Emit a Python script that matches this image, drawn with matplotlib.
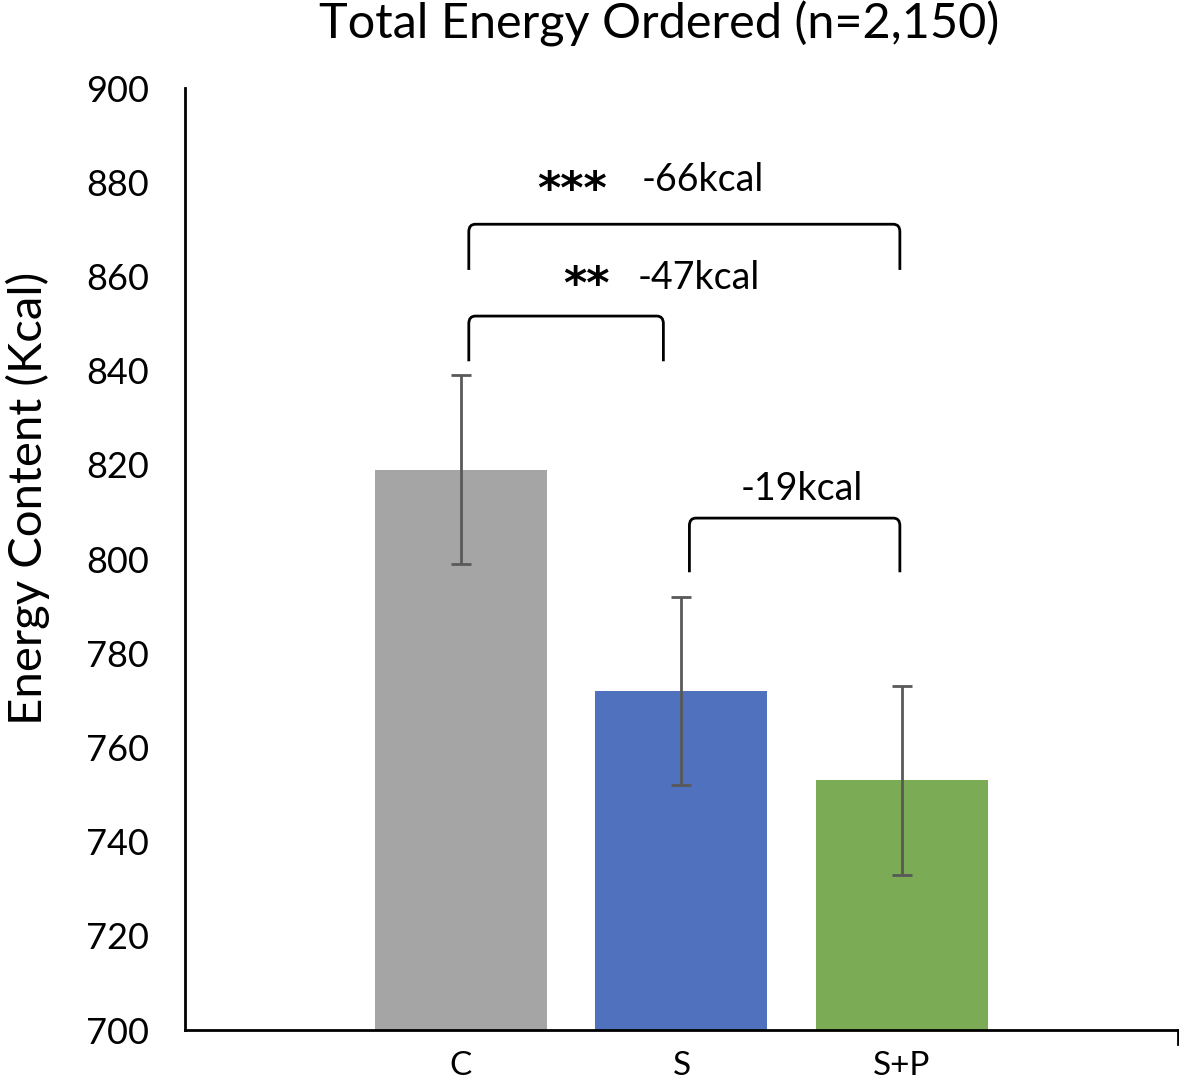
import matplotlib.pyplot as plt
from matplotlib.path import Path
from matplotlib.patches import PathPatch

groups = ["C", "S", "S+P"]
energy = [819, 772, 753]
err = [20, 20, 20]
colors = ["#A5A5A5", "#4F71BE", "#7CAB55"]

# brackets: (x start, x end, top, leg bottom)
brackets = [(0.036, 0.918, 851.6, 842.0),
            (0.036, 1.99, 871.1, 861.4),
            (1.036, 1.99, 808.7, 797.2)]

plt.rcParams['font.family'] = ['Lato', 'DejaVu Sans']

fig = plt.figure(figsize=(11.79, 10.88), dpi=100)
ax = fig.add_axes([0.157, 0.0533, 0.842, 0.8657])

x = range(len(groups))
ax.bar(x, energy, width=0.78, color=colors, zorder=2)
ax.errorbar(x, energy, yerr=err, fmt='none', ecolor='#595959',
            elinewidth=2, capsize=7, capthick=2, zorder=3)

ax.set_xlim(-1.25, 3.25)
ax.set_ylim(700, 900)
ax.set_yticks(range(700, 901, 20))
ax.set_xticks(list(x))
ax.set_xticklabels(groups)
ax.tick_params(axis='y', length=0, pad=26, labelsize=26)
ax.tick_params(axis='x', length=0, pad=15, labelsize=24)
for s in ['top', 'right']:
    ax.spines[s].set_visible(False)
ax.spines['left'].set_linewidth(2)
ax.spines['bottom'].set_linewidth(2)
ax.plot([3.25, 3.25], [700, 697], color='black', lw=2, clip_on=False)

fig.text(0.024, 0.542, "Energy Content (Kcal)", fontsize=34, rotation=90,
         ha='center', va='center')
fig.text(0.559, 0.978, "Total Energy Ordered (n=2,150)", fontsize=35,
         ha='center', va='center')

rx, ry = 0.03, 1.6
for x1, x2, top, bot in brackets:
    verts = [(x1, bot), (x1, top - ry), (x1, top), (x1 + rx, top),
             (x2 - rx, top), (x2, top), (x2, top - ry), (x2, bot)]
    codes = [Path.MOVETO, Path.LINETO, Path.CURVE3, Path.CURVE3,
             Path.LINETO, Path.CURVE3, Path.CURVE3, Path.LINETO]
    ax.add_patch(PathPatch(Path(verts, codes), fill=False, lw=2,
                           edgecolor='black', zorder=4))

ax.text(0.505, 875.6, "***", fontsize=32, ha='center', va='baseline',
        fontweight='bold', family='DejaVu Sans')
ax.text(1.095, 880.5, "-66kcal", fontsize=27, ha='center', va='center')
ax.text(0.568, 855.4, "**", fontsize=32, ha='center', va='baseline',
        fontweight='bold', family='DejaVu Sans')
ax.text(1.077, 859.7, "-47kcal", fontsize=27, ha='center', va='center')
ax.text(1.545, 814.9, "-19kcal", fontsize=27, ha='center', va='center')

fig.savefig("out.png", dpi=100)
